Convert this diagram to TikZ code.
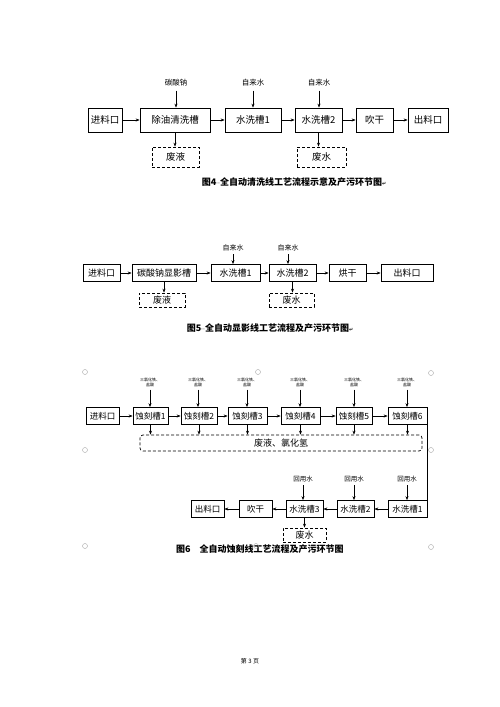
\documentclass[tikz,border=0pt]{standalone}
\usepackage{fontspec}
\setmainfont{Noto Sans CJK SC}
\newfontfamily\symfont{DejaVu Sans}
\usetikzlibrary{arrows.meta,positioning}
\newcommand{\retmark}{{\symfont\fontsize{5}{5}\selectfont ↵}}
\newcommand{\spmark}{{\symfont\mdseries\fontsize{6}{6}\selectfont ··}}

\begin{document}
\begin{tikzpicture}[
  x=1pt,y=-1pt,
  >={Stealth[length=4pt,width=3pt]},
  tank/.style={draw,line width=0.7pt,inner sep=0pt,align=center},
  tankA/.style={tank,minimum height=24pt,font=\fontsize{9.5}{11}\selectfont},
  tankB/.style={tank,minimum height=17pt,font=\fontsize{9}{10}\selectfont},
  tankC/.style={tank,minimum height=17pt,font=\fontsize{8.5}{10}\selectfont},
  waste/.style={draw,dash pattern=on 3pt off 2pt,line width=0.7pt,
                inner sep=0pt,align=center},
  feed/.style={inner sep=0pt,align=center},
  flow/.style={->,line width=0.6pt},
  caption/.style={inner sep=0pt,font=\bfseries\fontsize{9}{10}\selectfont},
  ring/.style={draw=black!35,line width=0.4pt},
]
\useasboundingbox[fill=white] (0,0) rectangle (500,707);

%% ── Figure 4: cleaning line ─────────────────────────────────────────────────
\node[tankA,minimum width=34pt] (in4)   at (105,120)   {进料口};
\node[tankA,minimum width=70pt] (degr4) at (175,120)   {除油清洗槽};
\node[tankA,minimum width=56pt] (wa41)  at (253,120)   {水洗槽1};
\node[tankA,minimum width=47pt] (wa42)  at (318.5,120) {水洗槽2};
\node[tankA,minimum width=37pt] (dry4)  at (374.5,120) {吹干};
\node[tankA,minimum width=40pt] (out4)  at (428,120)   {出料口};

\draw[flow] (in4) -- (degr4);
\draw[flow] (degr4) -- (wa41);
\draw[flow] (wa41) -- (wa42);
\draw[flow] (wa42) -- (dry4);
\draw[flow] (dry4) -- (out4);

\node[feed,font=\fontsize{7.5}{8}\selectfont] (soda4) at (176,83) {碳酸钠};
\node[feed,font=\fontsize{7.5}{8}\selectfont] (tap41) at (253,83) {自来水};
\node[feed,font=\fontsize{7.5}{8}\selectfont] (tap42) at (319,83) {自来水};
\draw[flow] (soda4.south) ++(0,4) coordinate (s4) (s4) -- (s4 |- degr4.north);
\draw[flow] (tap41.south) ++(0,4) coordinate (t41) (t41) -- (t41 |- wa41.north);
\draw[flow] (tap42.south) ++(0,4) coordinate (t42) (t42) -- (t42 |- wa42.north);

\node[waste,minimum width=47pt,minimum height=20pt,
      font=\fontsize{9.5}{11}\selectfont] (liq4) at (175.5,157) {废液};
\node[waste,minimum width=49pt,minimum height=20pt,
      font=\fontsize{9.5}{11}\selectfont] (ww4)  at (321.5,157) {废水};
\draw[flow] (degr4.south) -- (degr4.south |- liq4.north);
\draw[flow] (wa42.south) -- (wa42.south |- ww4.north);

\node[caption] (cap4) at (294,182) {图4\spmark 全自动清洗线工艺流程示意及产污环节图\retmark};

%% ── Figure 5: developing line ───────────────────────────────────────────────
\node[tankB,minimum width=37pt] (in5)  at (101.5,273) {进料口};
\node[tankB,minimum width=64pt] (dev5) at (164,273)   {碳酸钠显影槽};
\node[tankB,minimum width=49pt] (wa51) at (235.5,273) {水洗槽1};
\node[tankB,minimum width=47pt] (wa52) at (292.5,273) {水洗槽2};
\node[tankB,minimum width=37pt] (dry5) at (347.5,273) {烘干};
\node[tankB,minimum width=52pt] (out5) at (407,273)   {出料口};

\draw[flow] (in5) -- (dev5);
\draw[flow] (dev5) -- (wa51);
\draw[flow] (wa51) -- (wa52);
\draw[flow] (wa52) -- (dry5);
\draw[flow] (dry5) -- (out5);

\node[feed,font=\fontsize{7}{8}\selectfont] (tap51) at (233,248) {自来水};
\node[feed,font=\fontsize{7}{8}\selectfont] (tap52) at (288,248) {自来水};
\draw[flow] (tap51.south) ++(0,3) coordinate (t51) (t51) -- (t51 |- wa51.north);
\draw[flow] (tap52.south) ++(0,3) coordinate (t52) (t52) -- (t52 |- wa52.north);

\node[waste,minimum width=46pt,minimum height=14pt,
      font=\fontsize{9}{10}\selectfont] (liq5) at (162,300)   {废液};
\node[waste,minimum width=45pt,minimum height=14pt,
      font=\fontsize{9}{10}\selectfont] (ww5)  at (291.5,300) {废水};
\draw[flow] (dev5.south) -- (dev5.south |- liq5.north);
\draw[flow] (wa52.south) -- (wa52.south |- ww5.north);

\node[caption] (cap5) at (270,328) {图5\spmark 全自动显影线工艺流程及产污环节图\retmark};

%% ── Figure 6: etching line, upper row ───────────────────────────────────────
\node[tankC,minimum width=33pt] (in6) at (102.5,416) {进料口};
\node[tankC,minimum width=35pt] (et1) at (150.5,416) {蚀刻槽1};
\node[tankC,minimum width=36pt] (et2) at (199,416)   {蚀刻槽2};
\node[tankC,minimum width=39pt] (et3) at (247.5,416) {蚀刻槽3};
\node[tankC,minimum width=39pt] (et4) at (300.5,416) {蚀刻槽4};
\node[tankC,minimum width=36pt] (et5) at (354,416)   {蚀刻槽5};
\node[tankC,minimum width=39pt] (et6) at (407.5,416) {蚀刻槽6};

\draw[flow] (in6) -- (et1);
\draw[flow] (et1) -- (et2);
\draw[flow] (et2) -- (et3);
\draw[flow] (et3) -- (et4);
\draw[flow] (et4) -- (et5);
\draw[flow] (et5) -- (et6);

\node[feed,font=\fontsize{4}{5}\selectfont] (acid1) at (150,382) {三氯化铁、\\盐酸};
\node[feed,font=\fontsize{4}{5}\selectfont] (acid2) at (198,382) {三氯化铁、\\盐酸};
\node[feed,font=\fontsize{4}{5}\selectfont] (acid3) at (247,382) {三氯化铁、\\盐酸};
\node[feed,font=\fontsize{4}{5}\selectfont] (acid4) at (300,382) {三氯化铁、\\盐酸};
\node[feed,font=\fontsize{4}{5}\selectfont] (acid5) at (354,382) {三氯化铁、\\盐酸};
\node[feed,font=\fontsize{4}{5}\selectfont] (acid6) at (407,382) {三氯化铁、\\盐酸};
\draw[flow] (acid1.south) ++(0,3) coordinate (a1) (a1) -- (a1 |- et1.north);
\draw[flow] (acid2.south) ++(0,3) coordinate (a2) (a2) -- (a2 |- et2.north);
\draw[flow] (acid3.south) ++(0,3) coordinate (a3) (a3) -- (a3 |- et3.north);
\draw[flow] (acid4.south) ++(0,3) coordinate (a4) (a4) -- (a4 |- et4.north);
\draw[flow] (acid5.south) ++(0,3) coordinate (a5) (a5) -- (a5 |- et5.north);
\draw[flow] (acid6.south) ++(0,3) coordinate (a6) (a6) -- (a6 |- et6.north);

\node[waste,rounded corners=3pt,minimum width=282pt,minimum height=16pt,
      font=\fontsize{9}{10}\selectfont] (gas6) at (281,443) {废液、氯化氢};
\draw[flow] (et1.south) -- (et1.south |- gas6.north);
\draw[flow] (et2.south) -- (et2.south |- gas6.north);
\draw[flow] (et3.south) -- (et3.south |- gas6.north);
\draw[flow] (et4.south) -- (et4.south |- gas6.north);
\draw[flow] (et5.south) -- (et5.south |- gas6.north);
\draw[flow] (et6.south) -- (et6.south |- gas6.north);

%% ── Figure 6: etching line, lower row ───────────────────────────────────────
\node[tankC,minimum width=39pt] (wa61) at (407.5,509) {水洗槽1};
\node[tankC,minimum width=37pt] (wa62) at (355.5,509) {水洗槽2};
\node[tankC,minimum width=37pt] (wa63) at (304.5,509) {水洗槽3};
\node[tankC,minimum width=33pt] (dry6) at (255.5,509) {吹干};
\node[tankC,minimum width=33pt] (out6) at (207.5,509) {出料口};

\draw[line width=0.7pt] (et6.south east) -- (wa61.north east);
\draw[flow] (wa61) -- (wa62);
\draw[flow] (wa62) -- (wa63);
\draw[flow] (wa63) -- (dry6);
\draw[flow] (dry6) -- (out6);

\node[feed,font=\fontsize{6.5}{7}\selectfont] (reuse1) at (407,479) {回用水};
\node[feed,font=\fontsize{6.5}{7}\selectfont] (reuse2) at (354,479) {回用水};
\node[feed,font=\fontsize{6.5}{7}\selectfont] (reuse3) at (303,479) {回用水};
\draw[flow] (reuse1.south) ++(0,3) coordinate (r1) (r1) -- (r1 |- wa61.north);
\draw[flow] (reuse2.south) ++(0,3) coordinate (r2) (r2) -- (r2 |- wa62.north);
\draw[flow] (reuse3.south) ++(0,3) coordinate (r3) (r3) -- (r3 |- wa63.north);

\node[waste,minimum width=43pt,minimum height=14pt,
      font=\fontsize{9}{10}\selectfont] (ww6) at (304.5,535) {废水};
\draw[flow] (wa63.south) -- (wa63.south |- ww6.north);

\node[caption,anchor=west] (cap6) at (176,549) {图6\quad 全自动蚀刻线工艺流程及产污环节图};

%% ── Text-box markers of the page ────────────────────────────────────────────
\draw[ring] (85,372) circle (2.5) (258,372) circle (2.5) (431,373) circle (2.5);
\draw[ring] (85,450) circle (2.5) (431,450) circle (2.5);
\draw[ring] (85,546) circle (2.5) (256,546) circle (2.5) (431,547) circle (2.5);

%% ── Page number ─────────────────────────────────────────────────────────────
\node[inner sep=0pt,font=\fontsize{6}{7}\selectfont] (page) at (250,661) {第 3 页};

\end{tikzpicture}
\end{document}
